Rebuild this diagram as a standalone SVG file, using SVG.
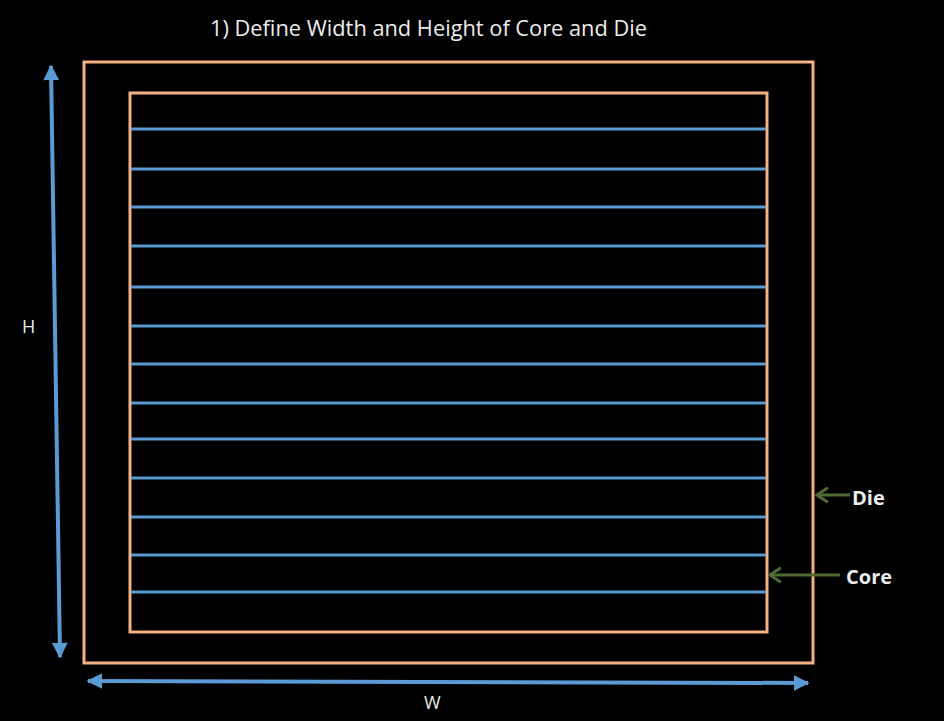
<svg xmlns="http://www.w3.org/2000/svg" width="944" height="721" viewBox="0 0 944 721">
<style>
.frame{fill:none;stroke:#F4B183;stroke-width:3}
.row{stroke:#5B9BD5;stroke-width:3}
.dim{stroke:#5B9BD5;stroke-width:4;fill:none}
.ptr{stroke:#4F6B32;stroke-width:3;fill:none}
.t{font-family:"Open Sans","Liberation Sans",sans-serif;fill:#EDEDED}
.b{font-family:"Open Sans","Liberation Sans",sans-serif;font-weight:bold;fill:#EDEDED}
</style>
<defs>
<marker id="ab" viewBox="0 0 10 10" refX="9" refY="5" markerWidth="4" markerHeight="4" orient="auto-start-reverse" markerUnits="strokeWidth"><path d="M0,0L10,5L0,10Z" fill="#5B9BD5"/></marker>
<marker id="ag" viewBox="0 0 10 10" refX="9" refY="5" markerWidth="6" markerHeight="6" orient="auto" markerUnits="strokeWidth"><path d="M3,1L9,5L3,9" fill="none" stroke="#4F6B32" stroke-width="1.6"/></marker>
</defs>
<rect width="944" height="721" fill="#000"/>
<text class="t" x="210" y="36" font-size="21" textLength="437" lengthAdjust="spacingAndGlyphs">1) Define Width and Height of Core and Die</text>
<g id="die"><rect class="frame" x="84" y="62" width="729" height="601"/></g>
<g id="core"><rect class="frame" x="130" y="93" width="637" height="539"/></g>
<g id="rows">
<line class="row" x1="131" y1="129" x2="766" y2="129"/>
<line class="row" x1="131" y1="169" x2="766" y2="169"/>
<line class="row" x1="131" y1="207" x2="766" y2="207"/>
<line class="row" x1="131" y1="246" x2="766" y2="246"/>
<line class="row" x1="131" y1="287" x2="766" y2="287"/>
<line class="row" x1="131" y1="326" x2="766" y2="326"/>
<line class="row" x1="131" y1="364" x2="766" y2="364"/>
<line class="row" x1="131" y1="403" x2="766" y2="403"/>
<line class="row" x1="131" y1="439" x2="766" y2="439"/>
<line class="row" x1="131" y1="478" x2="766" y2="478"/>
<line class="row" x1="131" y1="517" x2="766" y2="517"/>
<line class="row" x1="131" y1="555" x2="766" y2="555"/>
<line class="row" x1="131" y1="592" x2="766" y2="592"/>
</g>
<g id="connectors">
<line class="dim" x1="51" y1="66" x2="60" y2="657" marker-start="url(#ab)" marker-end="url(#ab)"/>
<line class="dim" x1="88" y1="681" x2="808" y2="683" marker-start="url(#ab)" marker-end="url(#ab)"/>
<line class="ptr" x1="850" y1="495" x2="817" y2="495" marker-end="url(#ag)"/>
<line class="ptr" x1="840" y1="575" x2="770" y2="575" marker-end="url(#ag)"/>
</g>
<g id="labels">
<text class="t" x="22" y="333" font-size="18">H</text>
<text class="t" x="424" y="709" font-size="18">W</text>
<text class="b" x="852" y="505" font-size="20">Die</text>
<text class="b" x="846" y="584" font-size="20">Core</text>
</g>
</svg>
